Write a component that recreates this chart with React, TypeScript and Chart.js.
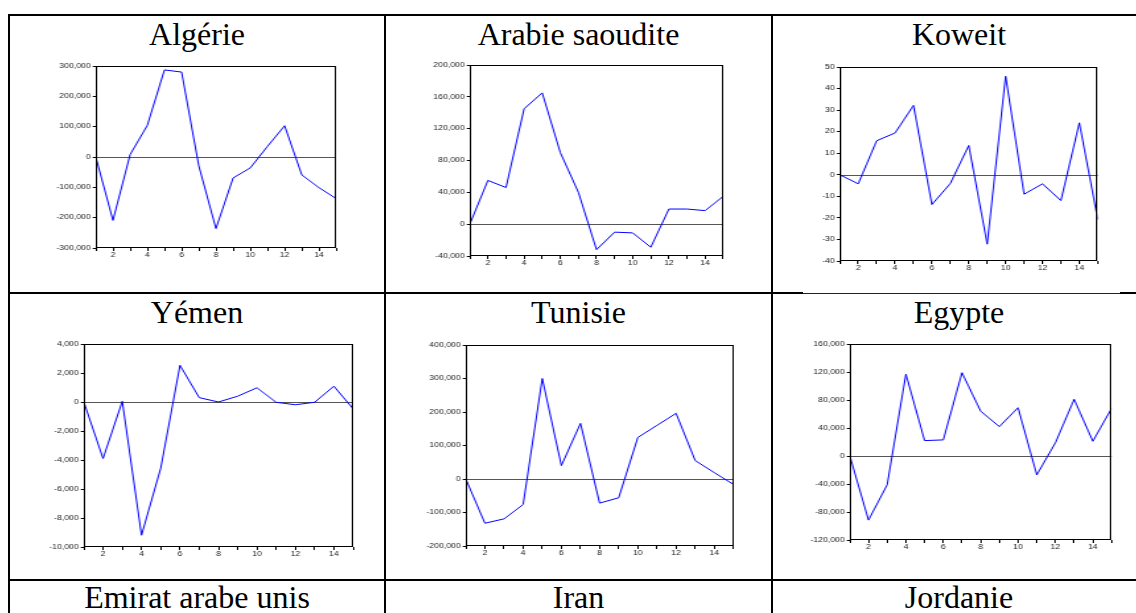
import React, { useEffect, useRef } from "react";
import { Chart, registerables } from "chart.js";

Chart.register(...registerables);

// ---------- data ----------
const periods = [1, 2, 3, 4, 5, 6, 7, 8, 9, 10, 11, 12, 13, 14, 15];

const algerieValues = [0, -209000, 8000, 104000, 287000, 280000, -29000, -236000, -69000, -36000, 35000, 103000, -59000, -101000, -137000];
const arabieValues = [0, 55000, 46000, 145000, 165000, 90000, 40000, -32000, -10000, -11000, -29000, 19000, 19000, 17000, 35000];
const koweitValues = [0, -4.2, 15.8, 19.4, 32.2, -13.8, -4, 13.6, -32.2, 45.7, -9, -4.2, -12, 24.1, -20.7];
const yemenValues = [0, -3900, 50, -9190, -4560, 2530, 300, 0, 400, 980, -20, -190, -20, 1090, -470];
const tunisieValues = [0, -132000, -119000, -76000, 300000, 40000, 166000, -72000, -56000, 124000, 160000, 196000, 55000, 19000, -16000];
const egypteValues = [0, -91600, -41000, 117000, 22000, 23000, 119000, 64000, 42000, 69000, -27000, 19000, 81000, 21000, 68000];

// y axis [min, max, step]
const algerieAxis = [-300000, 300000, 100000];
const arabieAxis = [-40000, 200000, 40000];
const koweitAxis = [-40, 50, 10];
const yemenAxis = [-10000, 4000, 2000];
const tunisieAxis = [-200000, 400000, 100000];
const egypteAxis = [-120000, 160000, 40000];

const titles = ["Algérie", "Arabie saoudite", "Koweit", "Yémen", "Tunisie", "Egypte", "Emirat arabe unis", "Iran", "Jordanie"];

// ---------- layout ----------
const S = 1.32; // horizontal stretch of the embedded chart pictures
const YW = 40;
const PT = 8;
const XH = 16;
const TICK_FONT = { family: "'Liberation Sans', Arial, sans-serif", size: 6.6 };

const framePlugin = {
  id: "frameZero",
  beforeDatasetsDraw(chart: any) {
    const { ctx, chartArea } = chart;
    const y = Math.round(chart.scales.y.getPixelForValue(0)) + 0.5;
    ctx.save();
    ctx.strokeStyle = "#555";
    ctx.lineWidth = 1;
    ctx.beginPath();
    ctx.moveTo(chartArea.left, y);
    ctx.lineTo(chartArea.right, y);
    ctx.stroke();
    ctx.restore();
  },
  afterDraw(chart: any) {
    const { ctx, chartArea } = chart;
    ctx.save();
    ctx.strokeStyle = "#000";
    ctx.lineWidth = 1;
    const l = Math.round(chartArea.left) + 0.5;
    const t = Math.round(chartArea.top) + 0.5;
    const r = Math.round(chartArea.right) - 0.5;
    const b = Math.round(chartArea.bottom) - 0.5;
    ctx.strokeRect(l, t, r - l, b - t);
    ctx.restore();
  },
};

function MiniChart({ values, axis, box }: { values: number[]; axis: number[]; box: number[] }) {
  const ref = useRef<HTMLCanvasElement>(null);
  const [pl, pt, pr, pb] = box;
  const innerW = (pr - pl) / S;
  const W = Math.round(YW + innerW + 6);
  const padR = W - YW - innerW;
  const top = Math.round(pt) - PT;
  const H = Math.round(pb) - Math.round(pt) + PT + XH;

  useEffect(() => {
    if (!ref.current) return;
    const chart = new Chart(ref.current, {
      type: "line",
      data: {
        datasets: [
          {
            data: periods.map((p, i) => ({ x: p, y: values[i] })),
            borderColor: "#0000ff",
            borderWidth: 1,
            pointRadius: 0,
            tension: 0,
            fill: false,
          },
        ],
      },
      options: {
        animation: false,
        responsive: false,
        devicePixelRatio: 1,
        layout: { padding: { left: 0, top: PT, right: padR, bottom: 0 } },
        plugins: { legend: { display: false }, tooltip: { enabled: false } },
        scales: {
          x: {
            type: "linear",
            min: 1,
            max: 15,
            afterFit: (s: any) => {
              s.height = XH;
            },
            border: { display: false },
            grid: { drawOnChartArea: false, color: "#000", tickLength: 3 },
            ticks: {
              stepSize: 1,
              autoSkip: false,
              maxRotation: 0,
              minRotation: 0,
              padding: 0,
              color: "#222",
              font: TICK_FONT,
              callback: (v: any) => (Number(v) % 2 === 0 ? String(v) : ""),
            },
          },
          y: {
            type: "linear",
            min: axis[0],
            max: axis[1],
            afterFit: (s: any) => {
              s.width = YW;
            },
            border: { display: false },
            grid: { drawOnChartArea: false, color: "#000", tickLength: 2.3 },
            ticks: {
              stepSize: axis[2],
              autoSkip: false,
              padding: 1.5,
              color: "#222",
              font: TICK_FONT,
              callback: (v: any) => Number(v).toLocaleString("en-US"),
            },
          },
        },
      } as any,
      plugins: [framePlugin],
    });
    return () => chart.destroy();
  }, []);

  return (
    <div
      style={{
        position: "absolute",
        left: pl - YW * S,
        top,
        width: W,
        height: H,
        transform: `scaleX(${S})`,
        transformOrigin: "0 0",
      }}
    >
      <canvas ref={ref} width={W} height={H} style={{ display: "block" }} />
    </div>
  );
}

const panels = [
  { values: algerieValues, axis: algerieAxis, box: [95.7, 66.3, 336, 247.7] },
  { values: arabieValues, axis: arabieAxis, box: [469.3, 65.3, 722.7, 256] },
  { values: koweitValues, axis: koweitAxis, box: [839.7, 66.7, 1097.7, 261] },
  { values: yemenValues, axis: yemenAxis, box: [84, 344.3, 353.3, 546.7] },
  { values: tunisieValues, axis: tunisieAxis, box: [465.7, 344.7, 733.3, 546.3] },
  { values: egypteValues, axis: egypteAxis, box: [850, 344, 1111.7, 540.3] },
];

const colLeft = [10, 386, 773];
const colWidth = [374, 385, 372];
const rowTitleTop = [18, 296, 581];

function Line({ x, y, w, h, c = "#000" }: { x: number; y: number; w: number; h: number; c?: string }) {
  return <div style={{ position: "absolute", left: x, top: y, width: w, height: h, background: c }} />;
}

export default function App() {
  return (
    <div
      style={{
        position: "absolute",
        left: 0,
        top: 0,
        width: 1136,
        height: 613,
        overflow: "hidden",
        background: "#fff",
      }}
    >
      {/* table borders */}
      <Line x={8} y={14} w={1128} h={2} />
      <Line x={8} y={14} w={2} h={599} />
      <Line x={384} y={14} w={2} h={599} />
      <Line x={771} y={14} w={2} h={599} />
      <Line x={8} y={292} w={795} h={2} />
      <Line x={803} y={293} w={317} h={1} c="#222" />
      <Line x={1120} y={292} w={16} h={2} />
      <Line x={8} y={579} w={1128} h={2} />

      {titles.map((t, i) => (
        <div
          key={t}
          style={{
            position: "absolute",
            left: colLeft[i % 3],
            width: colWidth[i % 3],
            top: rowTitleTop[Math.floor(i / 3)],
            textAlign: "center",
            fontFamily: "'Liberation Serif', 'Times New Roman', serif",
            fontSize: 32,
            lineHeight: "32px",
            color: "#000",
            whiteSpace: "nowrap",
          }}
        >
          {t}
        </div>
      ))}

      {panels.map((p, i) => (
        <MiniChart key={i} values={p.values} axis={p.axis} box={p.box} />
      ))}
    </div>
  );
}
